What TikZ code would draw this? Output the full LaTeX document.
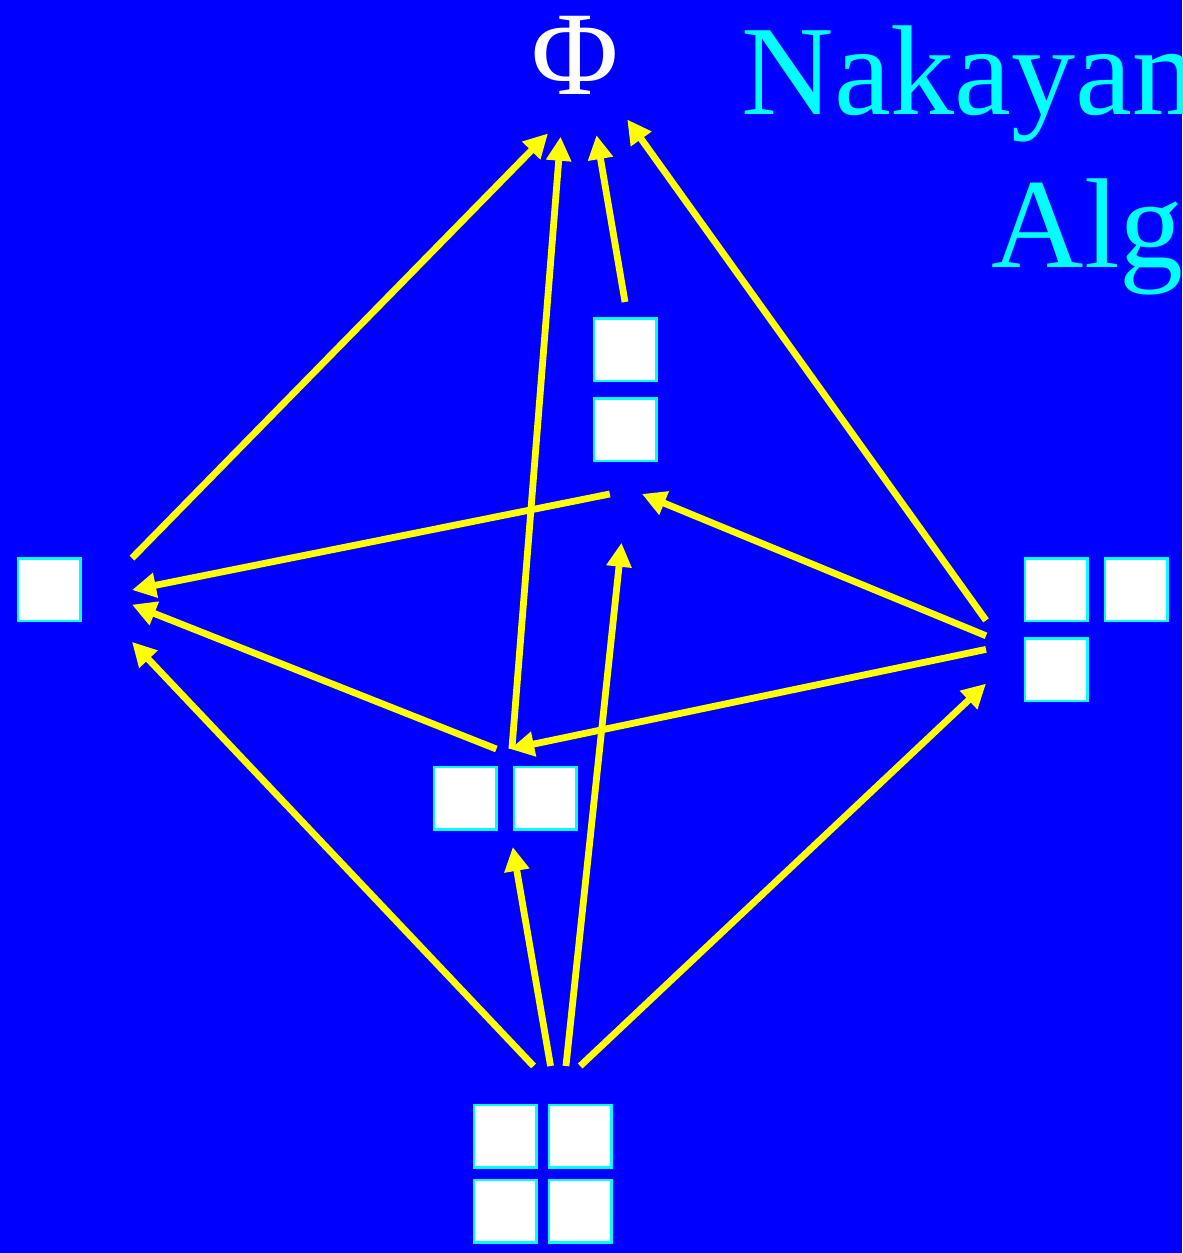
\documentclass[tikz,border=0pt]{standalone}
\usepackage{fontspec}
\setmainfont{Liberation Serif}
\usepackage{xcolor}
\usepackage{tikz}
\usetikzlibrary{positioning, arrows.meta}
\definecolor{slideblue}{RGB}{0, 0, 255}
\definecolor{boxcyan}{RGB}{0, 255, 255}
\definecolor{hasseyellow}{RGB}{255, 255, 0}
\tikzset{
  cell/.style={draw=boxcyan, fill=white, line width=0.025cm, minimum size=0.625cm, inner sep=0pt},
  port/.style={rectangle, inner sep=0pt, outer sep=0pt},
  cover/.style={-{Triangle[length=0.24cm, width=0.24cm]}, draw=hasseyellow, line width=0.068cm},
  title/.style={text=boxcyan, anchor=base west, inner sep=0pt, font=\fontsize{36.4}{44}\selectfont}
}

\begin{document}
\begin{tikzpicture}[
    x=0.1mm, y=-0.1mm,
    node distance=0.15cm
  ]

  \fill[slideblue] (0,0) rectangle (1182,1253);
  \useasboundingbox (0,0) rectangle (1182,1253);
  \clip (0,0) rectangle (1182,1253);

  \node[title] (name1) at (741,115) {Nakayama};
  \node[title] (name2) at (991,268) {Algebra};

  % empty partition
  \node[circle, inner sep=0pt, outer sep=0pt, minimum size=1.66cm, text=white,
    font=\fontsize{34}{40}\selectfont] (phi) at (575,55) {Φ};

  % Young diagrams
  \node[cell] (c1a) at (49,590) {};

  \node[cell] (c11a) at (625,350) {};
  \node[cell, below=of c11a] (c11b) {};

  \node[cell] (c2a) at (465,798) {};
  \node[cell, right=of c2a] (c2b) {};

  \node[cell] (c21a) at (1056,590) {};
  \node[cell, right=of c21a] (c21b) {};
  \node[cell, below=of c21a] (c21c) {};

  \node[cell] (c22a) at (505,1136) {};
  \node[cell, right=0.1cm of c22a] (c22b) {};
  \node[cell, below=0.1cm of c22a] (c22c) {};
  \node[cell, right=0.1cm of c22c] (c22d) {};

  % ports the arrows attach to
  \node[port, minimum width=1.66cm, minimum height=1.4cm] (lam1) at (49,590) {};
  \node[port, minimum width=0.8cm, minimum height=1.92cm] (lam11) at (625,398) {};
  \node[port, minimum width=1.44cm, minimum height=0.98cm] (lam2) at (505,798) {};
  \node[port, minimum width=2.2cm, minimum height=1.6cm] (lam21) at (1096,630) {};
  \node[port, minimum width=1.6cm, minimum height=2.16cm] (lam22) at (543,1174) {};

  \draw[cover] (lam1.21) -- (phi.251);
  \draw[cover] (lam2.82) -- (phi.260);
  \draw[cover] (lam11.90) -- (phi.285);
  \draw[cover] (lam21.175) -- (phi.309);

  \draw[cover] (lam11.-99) -- (lam1.0);
  \draw[cover] (lam21.183) -- (lam11.-80);
  \draw[cover] (lam2.100) -- (lam1.-10);
  \draw[cover] (lam21.190) -- (lam2.84);

  \draw[cover] (lam22.95) -- (lam1.-32);
  \draw[cover] (lam22.86) -- (lam2.-81);
  \draw[cover, shorten >=0.49cm] (lam22.78) -- (lam11.-89);
  \draw[cover] (lam22.71) -- (lam21.206);

\end{tikzpicture}
\end{document}
